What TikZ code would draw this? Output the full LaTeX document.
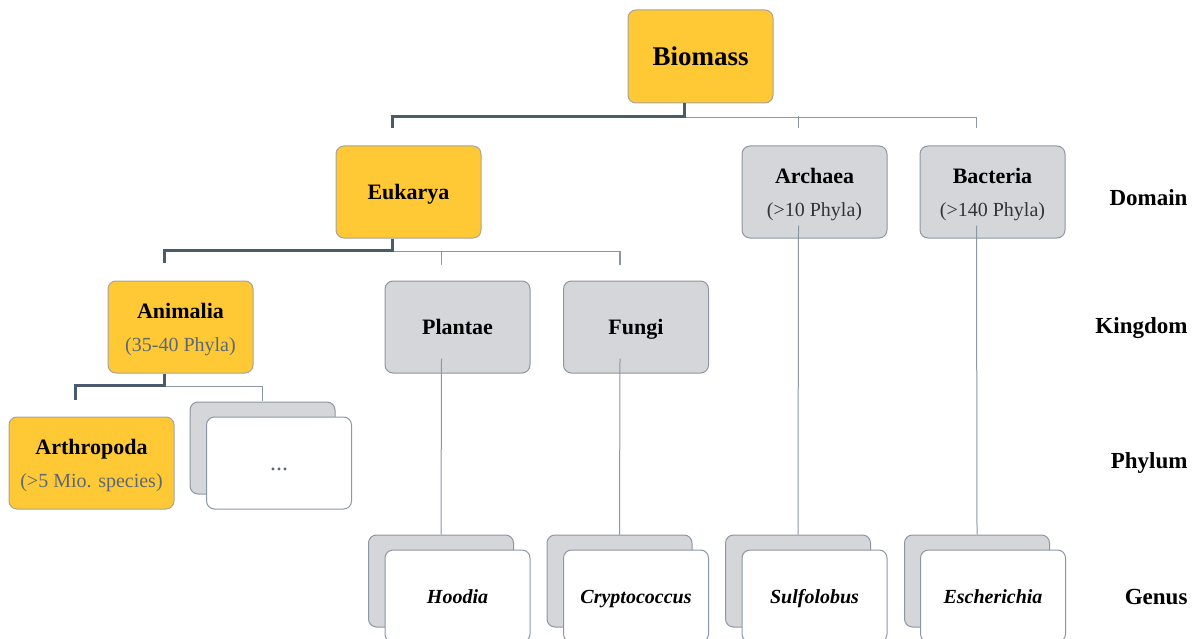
\documentclass[tikz,border=0pt]{standalone}
\usepackage{fontspec}
\setmainfont{Liberation Serif}
\usetikzlibrary{calc}
\definecolor{yel}{HTML}{FFC936}
\definecolor{yelb}{HTML}{A8A39A}
\definecolor{gfill}{HTML}{D4D6DA}
\definecolor{gline}{HTML}{8C97A3}
\definecolor{dline}{HTML}{4A5B6C}
\definecolor{subg}{HTML}{5C6876}
\definecolor{subd}{HTML}{333333}
\tikzset{
  box/.style={rectangle, rounded corners=8pt, minimum width=145pt, minimum height=92pt, inner sep=0pt, align=center, line width=1pt},
  ybox/.style={box, fill=yel, draw=yelb},
  gbox/.style={box, fill=gfill, draw=gline},
  wbox/.style={box, fill=white, draw=gline},
  thick line/.style={draw=dline, line width=2.6pt},
  thin line/.style={draw=gline, line width=1.3pt},
  title/.style={font=\fontsize{22}{33}\selectfont\bfseries},
  oneline/.style={text height=17pt, text depth=3pt},
  level/.style={font=\fontsize{23}{26}\selectfont\bfseries, anchor=east},
  genus/.style={font=\fontsize{20}{24}\selectfont\bfseries\itshape, oneline},
}
\newcommand{\subt}[2]{{\fontsize{20}{33}\selectfont\mdseries\color{#1}#2}}
\newcommand{\hl}{\rule{0pt}{20pt}}
\begin{document}
\begin{tikzpicture}[x=1pt,y=-1pt]
\useasboundingbox (0,0) rectangle (1198,639);
\clip (0,0) rectangle (1198,639);
% boxes
\node[ybox, minimum height=93pt, text height=21pt, text depth=3pt, font=\fontsize{27}{30}\selectfont\bfseries] (bio) at (700.5,56.5) {Biomass};
\node[ybox, title, oneline] (euk) at (408.5,192) {Eukarya};
\node[gbox, title] (arc) at (814.5,192) {\hl Archaea\\\subt{subd}{(>10 Phyla)}};
\node[gbox, title] (bac) at (992.5,192) {\hl Bacteria\\\subt{subd}{(>140 Phyla)}};
\node[ybox, title] (ani) at (180.5,327) {\hl Animalia\\\subt{subg}{(35-40 Phyla)}};
\node[gbox, title, oneline] (pla) at (457.5,327) {Plantae};
\node[gbox, title, oneline] (fun) at (636,327) {Fungi};
\node[ybox, title, minimum width=165pt] (art) at (91.5,463) {\hl Arthropoda\\\subt{subg}{(>5 Mio. species)}};
\node[gbox] (dotb) at (262.5,448) {};
\node[wbox, font=\fontsize{24}{24}\selectfont, text=subg, oneline] (dots) at (279,463) {...};
\node[gbox] (hoob) at (441,581) {};
\node[wbox, genus] (hoo) at (457.5,596) {Hoodia};
\node[gbox] (cryb) at (619.5,581) {};
\node[wbox, genus] (cry) at (636,596) {Cryptococcus};
\node[gbox] (sulb) at (798,581) {};
\node[wbox, genus] (sul) at (814.5,596) {Sulfolobus};
\node[gbox] (escb) at (977,581) {};
\node[wbox, genus] (esc) at (993,596) {Escherichia};
% level labels
\node[level] (ldom) at (1191,198) {Domain};
\node[level] (lking) at (1191,328) {Kingdom};
\node[level] (lphy) at (1191,463) {Phylum};
\node[level] (lgen) at (1191,597) {Genus};
% connectors: Biomass
\coordinate (bj) at ($(bio.south)+(-16,14)$);
\draw[thin line] (bj) -| ($(bac.north)+(-16,-17)$);
\draw[thin line] ($(arc.north)+(-16,-29)$) -- ($(arc.north)+(-16,-17)$);
\draw[thick line] ($(bio.south)+(-16,0)$) |- ($(euk.north)+(-16,-29)$) -- ($(euk.north)+(-16,-17)$);
% Eukarya
\coordinate (ej) at ($(euk.south)+(-16,13)$);
\draw[thin line] (ej) -| ($(fun.north)+(-16,-16)$);
\draw[thin line] ($(pla.north)+(-16,-30)$) -- ($(pla.north)+(-16,-16)$);
\draw[thick line] ($(euk.south)+(-16,0)$) |- ($(ani.north)+(-16,-30)$) -- ($(ani.north)+(-16,-18)$);
% Animalia
\coordinate (aj) at ($(ani.south)+(-16,13)$);
\draw[thin line] (aj) -| ($(dotb.north)+(0,-1)$);
\draw[thick line] ($(ani.south)+(-16,0)$) |- ($(art.north)+(-16,-31)$) -- ($(art.north)+(-16,-17)$);
% vertical drops
\draw[thin line, line width=1pt] ($(pla.south)+(-16,-15)$) -- (hoob.north);
\draw[thin line, line width=1pt] ($(fun.south)+(-16,-15)$) -- (cryb.north);
\draw[thin line, line width=1pt] ($(arc.south)+(-16,-13)$) -- (sulb.north);
\draw[thin line, line width=1pt] ($(bac.south)+(-16,-13)$) -- (escb.north);
\end{tikzpicture}
\end{document}
